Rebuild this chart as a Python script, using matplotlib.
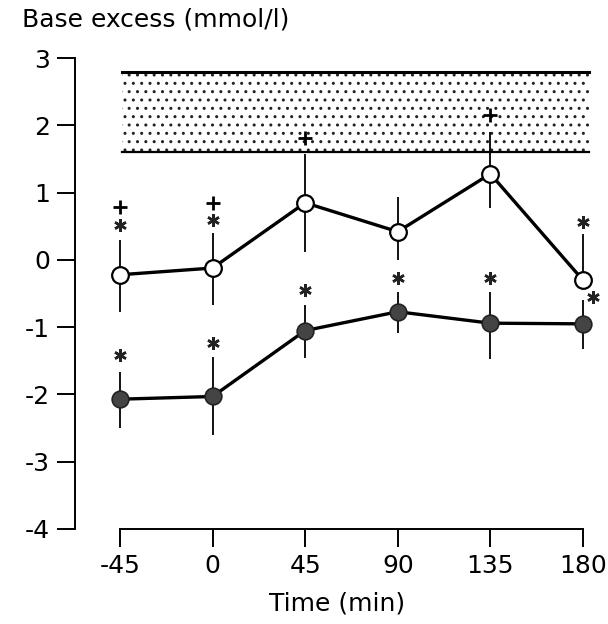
import matplotlib
matplotlib.use("Agg")
import matplotlib.pyplot as plt
from matplotlib.patches import Rectangle

# ---- data ----
time = [-45, 0, 45, 90, 135, 180]
xtick_labels = ["-45", "0", "45", "90", "135", "180"]
yticks = [3, 2, 1, 0, -1, -2, -3, -4]

open_mean = [-0.22, -0.12, 0.85, 0.42, 1.28, -0.30]
open_err_up = [0.52, 0.52, 0.73, 0.52, 0.62, 0.69]
open_err_down = [0.55, 0.55, 0.73, 0.42, 0.51, 0.0]

filled_mean = [-2.07, -2.03, -1.05, -0.77, -0.94, -0.95]
filled_err_up = [0.41, 0.59, 0.38, 0.30, 0.47, 0.35]
filled_err_down = [0.43, 0.57, 0.41, 0.32, 0.54, 0.38]

normal_low, normal_high = 1.6, 2.8
normal_x = [-44, 183]

star_x = [-45, 0, 180, -45, 0, 45, 90, 135, 185]
star_y = [0.52, 0.59, 0.57, -1.41, -1.24, -0.45, -0.27, -0.27, -0.55]
plus_x = [-45, 0, 45, 135]
plus_y = [0.79, 0.84, 1.81, 2.15]

plt.rcParams['font.family'] = ['DejaVu Sans']
plt.rcParams['hatch.linewidth'] = 1.0
plt.rcParams['hatch.color'] = '#222222'

fig = plt.figure(figsize=(6.08, 6.24), dpi=100)
ax = fig.add_axes([75/608, 1 - 529/624, 525/608, 489/624])
ax.set_xlim(-66.87, 188.3)
ax.set_ylim(-4, 3.27)

# normal range band
ax.add_patch(Rectangle((normal_x[0], normal_low), normal_x[1] - normal_x[0],
                       normal_high - normal_low, facecolor='white',
                       edgecolor='#222222', hatch='..', linewidth=0, zorder=1))
ax.plot(normal_x, [normal_high, normal_high], color='black', lw=2.2, zorder=2)
ax.plot(normal_x, [normal_low, normal_low], color='black', lw=1.6, zorder=2)

# series
ax.errorbar(time, filled_mean, yerr=[filled_err_down, filled_err_up], fmt='none',
            ecolor='black', elinewidth=1.3, capsize=0, zorder=3)
ax.plot(time, filled_mean, '-', color='black', lw=2.4, zorder=4)
ax.plot(time, filled_mean, 'o', ms=12, mfc='#444444', mec='#222222', mew=1.2, zorder=5)

ax.errorbar(time, open_mean, yerr=[open_err_down, open_err_up], fmt='none',
            ecolor='black', elinewidth=1.3, capsize=0, zorder=3)
ax.plot(time, open_mean, '-', color='black', lw=2.4, zorder=4)
ax.plot(time, open_mean, 'o', ms=12, mfc='white', mec='black', mew=1.6, zorder=5)

# significance marks
ax.plot(star_x, star_y, linestyle='none', marker=(6, 2, 0), ms=9, mew=1.8,
        color='#222222', zorder=6)
ax.plot(plus_x, plus_y, linestyle='none', marker='+', ms=10, mew=2.0,
        color='black', zorder=6)

# axes styling
for s in ['top', 'right']:
    ax.spines[s].set_visible(False)
ax.spines['left'].set_bounds(-4, 3)
ax.spines['bottom'].set_bounds(-45, 180)
ax.spines['left'].set_linewidth(1.4)
ax.spines['bottom'].set_linewidth(1.4)
ax.set_xticks(time)
ax.set_xticklabels(xtick_labels)
ax.set_yticks(yticks)
ax.set_yticklabels([str(v) for v in yticks])
ax.tick_params(axis='both', direction='out', length=13, width=1.4, labelsize=18,
               colors='black')
ax.tick_params(axis='y', pad=5)
ax.tick_params(axis='x', pad=5)

ax.set_xlabel('Time (min)', fontsize=18, labelpad=10)
fig.text(22/608, 1 - 20/624, 'Base excess (mmol/l)', fontsize=18,
         ha='left', va='center')

fig.savefig('out.png', dpi=100)
